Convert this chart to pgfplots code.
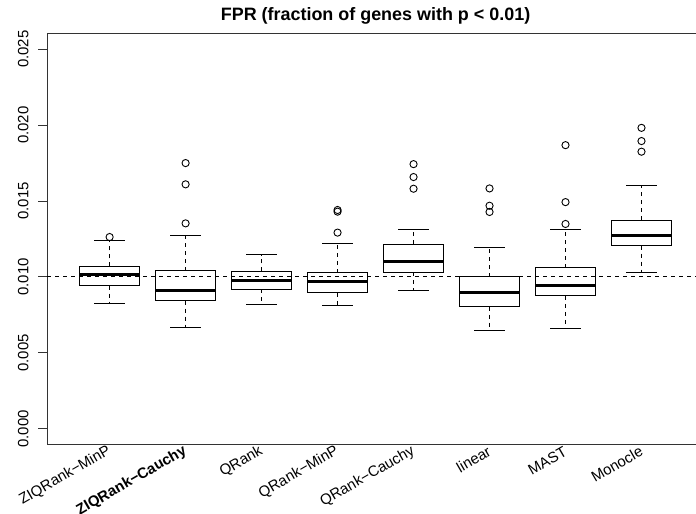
\documentclass[border=0pt]{standalone}
\usepackage{fontspec}
\setmainfont{Liberation Sans}
\usepackage{pgfplots}
\pgfplotsset{compat=1.18}
\usepgfplotslibrary{statistics}

% values are in units of 1e-3 (ticks relabelled below)
\pgfplotsset{
  rbox/.style={
    black, line width=1bp, fill=white,
    mark=o, mark size=3.6bp, mark options={line width=0.9bp, solid, fill=none},
    boxplot/draw direction=y,
    boxplot/box extend=0.8,
    boxplot/whisker extend=0.4,
    boxplot/every whisker/.style={dash pattern=on 4bp off 4bp},
    boxplot/every median/.style={line width=3bp},
  },
  % second pass: solid whisker caps only
  rcap/.style={
    black, line width=1bp, mark=none,
    boxplot/draw direction=y,
    boxplot/box extend=0.8,
    boxplot/whisker extend=0.4,
    boxplot/every whisker/.style={solid},
    boxplot/every box/.style={draw=none, fill=none},
    boxplot/every median/.style={draw=none},
  },
}
% #1 position, #2 lower whisker, #3 lower quartile, #4 median, #5 upper quartile, #6 upper whisker, #7 outliers
\newcommand{\rboxplot}[7]{%
  \addplot[rbox, boxplot prepared={draw position=#1, lower whisker=#2, lower quartile=#3, median=#4, upper quartile=#5, upper whisker=#6}]
    table[row sep=\\, y index=0] {y\\ #7};
  \addplot[rcap, boxplot prepared={draw position=#1, lower whisker=#2, lower quartile=#2, median=#2, upper quartile=#6, upper whisker=#6}]
    coordinates {};
}

\begin{document}
\begin{tikzpicture}
\begin{axis}[
  name=ax,
  width=656.5bp, height=410bp,
  scale only axis,
  xmin=0.18, xmax=8.82,
  ymin=-1, ymax=26,
  axis line style={black!80, line width=1bp},
  xtick={1,...,8},
  xticklabels={ZIQRank−MinP, \textbf{ZIQRank−Cauchy}, QRank, QRank−MinP, QRank−Cauchy, linear, MAST, Monocle},
  xtick style={draw=none},
  xticklabel style={anchor=east, inner sep=0pt, xshift=0bp, yshift=3bp, rotate=30, font=\fontsize{15}{18}\selectfont},
  ytick={0,5,10,15,20,25},
  yticklabels={0.000,0.005,0.010,0.015,0.020,0.025},
  ytick style={black!80, line width=1bp},
  tick align=outside,
  major tick length=9bp,
  yticklabel style={anchor=base, inner sep=0pt, xshift=-10bp, rotate=90, font=\fontsize{15}{18}\selectfont},
  title={FPR (fraction of genes with p < 0.01)},
  title style={at={(0.5,1)}, anchor=base, yshift=7.5bp, font=\bfseries\fontsize{18}{21}\selectfont},
  clip=false,
]
\rboxplot{1}{8.22}{9.43}{10.13}{10.70}{12.43}{12.63\\}          % ZIQRank-MinP
\rboxplot{2}{6.64}{8.44}{9.14}{10.42}{12.70}{13.53\\ 16.10\\ 17.50\\} % ZIQRank-Cauchy
\rboxplot{3}{8.18}{9.19}{9.78}{10.37}{11.47}{}                  % QRank
\rboxplot{4}{8.09}{8.95}{9.69}{10.29}{12.21}{12.92\\ 14.30\\ 14.41\\} % QRank-MinP
\rboxplot{5}{9.10}{10.31}{11.05}{12.17}{13.14}{15.81\\ 16.58\\ 17.43\\} % QRank-Cauchy
\rboxplot{6}{6.49}{8.05}{8.97}{10.02}{11.97}{14.28\\ 14.69\\ 15.83\\} % linear
\rboxplot{7}{6.60}{8.75}{9.45}{10.61}{13.14}{13.49\\ 14.93\\ 18.68\\} % MAST
\rboxplot{8}{10.31}{12.06}{12.70}{13.75}{16.05}{18.25\\ 18.95\\ 19.82\\} % Monocle
% reference line at 0.01
\addplot[black, line width=1bp, dash pattern=on 4bp off 4bp, no marks] coordinates {(0.18,10) (8.82,10)};
\end{axis}
\pgfresetboundingbox
\useasboundingbox ([shift={(-47.3bp,-70bp)}]ax.south west) rectangle ([shift={(648.7bp,444bp)}]ax.south west);
\end{tikzpicture}
\end{document}
